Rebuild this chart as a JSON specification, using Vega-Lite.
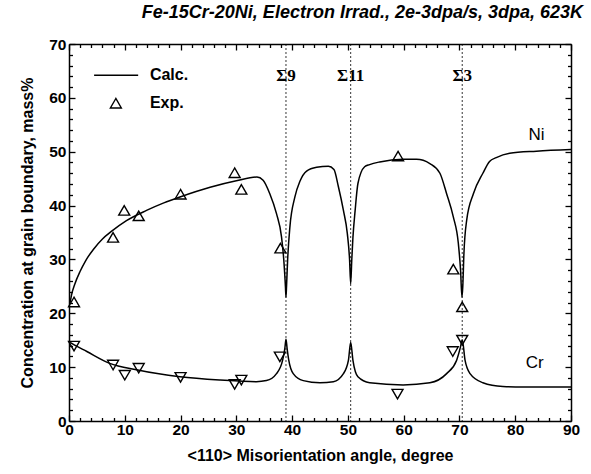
{
  "$schema": "https://vega.github.io/schema/vega-lite/v6.json",
  "width": 502,
  "height": 377,
  "autosize": {"type": "none"},
  "padding": {"left": 69, "top": 44, "right": 20, "bottom": 53},
  "background": "white",
  "config": {
    "view": {"stroke": null},
    "font": "Liberation Sans",
    "axis": {
      "grid": false,
      "domainColor": "black",
      "domainWidth": 1.5,
      "tickColor": "black",
      "tickWidth": 1.3,
      "labelColor": "black",
      "titleColor": "black",
      "labelFont": "Liberation Sans",
      "labelFontWeight": "bold",
      "labelFontSize": 15.5,
      "titleFont": "Liberation Sans",
      "titleFontWeight": "bold",
      "titleFontSize": 16
    }
  },
  "title": {
    "text": "Fe-15Cr-20Ni, Electron Irrad., 2e-3dpa/s, 3dpa, 623K",
    "anchor": "end",
    "frame": "group",
    "dx": 12,
    "offset": 15,
    "font": "Liberation Sans",
    "fontSize": 18,
    "fontStyle": "italic",
    "fontWeight": "bold",
    "color": "black"
  },
  "datasets": {
    "calc": [
      {"angle": 0.2, "conc": 22.0, "element": "Ni"},
      {"angle": 0.5, "conc": 23.6, "element": "Ni"},
      {"angle": 1.0, "conc": 25.3, "element": "Ni"},
      {"angle": 2.0, "conc": 27.8, "element": "Ni"},
      {"angle": 3.0, "conc": 29.8, "element": "Ni"},
      {"angle": 4.4, "conc": 31.9, "element": "Ni"},
      {"angle": 6.0, "conc": 33.8, "element": "Ni"},
      {"angle": 7.6, "conc": 35.2, "element": "Ni"},
      {"angle": 10.3, "conc": 37.2, "element": "Ni"},
      {"angle": 13.9, "conc": 39.1, "element": "Ni"},
      {"angle": 17.0, "conc": 40.5, "element": "Ni"},
      {"angle": 19.9, "conc": 41.6, "element": "Ni"},
      {"angle": 25.3, "conc": 43.4, "element": "Ni"},
      {"angle": 30.0, "conc": 44.6, "element": "Ni"},
      {"angle": 33.7, "conc": 45.3, "element": "Ni"},
      {"angle": 34.8, "conc": 44.7, "element": "Ni"},
      {"angle": 36.0, "conc": 42.2, "element": "Ni"},
      {"angle": 37.2, "conc": 38.5, "element": "Ni"},
      {"angle": 38.1, "conc": 34.2, "element": "Ni"},
      {"angle": 38.5, "conc": 30.0, "element": "Ni"},
      {"angle": 38.8, "conc": 25.0, "element": "Ni"},
      {"angle": 38.9, "conc": 23.0, "element": "Ni"},
      {"angle": 39.0, "conc": 25.0, "element": "Ni"},
      {"angle": 39.2, "conc": 30.0, "element": "Ni"},
      {"angle": 39.6, "conc": 36.0, "element": "Ni"},
      {"angle": 40.5, "conc": 41.6, "element": "Ni"},
      {"angle": 41.4, "conc": 44.5, "element": "Ni"},
      {"angle": 42.6, "conc": 46.4, "element": "Ni"},
      {"angle": 44.4, "conc": 47.1, "element": "Ni"},
      {"angle": 46.5, "conc": 47.3, "element": "Ni"},
      {"angle": 47.5, "conc": 46.7, "element": "Ni"},
      {"angle": 48.3, "conc": 43.5, "element": "Ni"},
      {"angle": 49.2, "conc": 39.1, "element": "Ni"},
      {"angle": 49.9, "conc": 34.8, "element": "Ni"},
      {"angle": 50.3, "conc": 30.0, "element": "Ni"},
      {"angle": 50.5, "conc": 25.5, "element": "Ni"},
      {"angle": 50.7, "conc": 30.0, "element": "Ni"},
      {"angle": 50.9, "conc": 34.0, "element": "Ni"},
      {"angle": 51.3, "conc": 39.1, "element": "Ni"},
      {"angle": 51.8, "conc": 44.1, "element": "Ni"},
      {"angle": 53.0, "conc": 47.2, "element": "Ni"},
      {"angle": 53.9, "conc": 47.6, "element": "Ni"},
      {"angle": 55.7, "conc": 48.1, "element": "Ni"},
      {"angle": 59.9, "conc": 48.6, "element": "Ni"},
      {"angle": 62.3, "conc": 48.6, "element": "Ni"},
      {"angle": 64.7, "conc": 47.8, "element": "Ni"},
      {"angle": 66.5, "conc": 46.0, "element": "Ni"},
      {"angle": 67.7, "conc": 42.2, "element": "Ni"},
      {"angle": 68.9, "conc": 37.9, "element": "Ni"},
      {"angle": 69.8, "conc": 33.0, "element": "Ni"},
      {"angle": 70.2, "conc": 28.0, "element": "Ni"},
      {"angle": 70.45, "conc": 23.0, "element": "Ni"},
      {"angle": 70.6, "conc": 25.0, "element": "Ni"},
      {"angle": 70.8, "conc": 31.0, "element": "Ni"},
      {"angle": 71.3, "conc": 37.3, "element": "Ni"},
      {"angle": 72.5, "conc": 42.2, "element": "Ni"},
      {"angle": 74.2, "conc": 46.0, "element": "Ni"},
      {"angle": 75.4, "conc": 48.2, "element": "Ni"},
      {"angle": 76.6, "conc": 48.9, "element": "Ni"},
      {"angle": 79.0, "conc": 49.7, "element": "Ni"},
      {"angle": 83.8, "conc": 50.1, "element": "Ni"},
      {"angle": 90.0, "conc": 50.4, "element": "Ni"},
      {"angle": 0.2, "conc": 14.6, "element": "Cr"},
      {"angle": 0.5, "conc": 14.4, "element": "Cr"},
      {"angle": 3.2, "conc": 12.9, "element": "Cr"},
      {"angle": 7.3, "conc": 10.7, "element": "Cr"},
      {"angle": 12.1, "conc": 9.5, "element": "Cr"},
      {"angle": 19.9, "conc": 8.2, "element": "Cr"},
      {"angle": 27.1, "conc": 7.6, "element": "Cr"},
      {"angle": 33.6, "conc": 7.3, "element": "Cr"},
      {"angle": 35.4, "conc": 7.5, "element": "Cr"},
      {"angle": 37.2, "conc": 8.8, "element": "Cr"},
      {"angle": 38.3, "conc": 11.3, "element": "Cr"},
      {"angle": 38.7, "conc": 13.5, "element": "Cr"},
      {"angle": 38.9, "conc": 15.2, "element": "Cr"},
      {"angle": 39.1, "conc": 13.5, "element": "Cr"},
      {"angle": 39.4, "conc": 11.3, "element": "Cr"},
      {"angle": 40.2, "conc": 8.8, "element": "Cr"},
      {"angle": 42.0, "conc": 7.5, "element": "Cr"},
      {"angle": 45.0, "conc": 7.1, "element": "Cr"},
      {"angle": 47.4, "conc": 7.3, "element": "Cr"},
      {"angle": 49.2, "conc": 8.8, "element": "Cr"},
      {"angle": 50.1, "conc": 11.3, "element": "Cr"},
      {"angle": 50.5, "conc": 14.6, "element": "Cr"},
      {"angle": 50.9, "conc": 11.3, "element": "Cr"},
      {"angle": 51.8, "conc": 8.2, "element": "Cr"},
      {"angle": 53.9, "conc": 7.1, "element": "Cr"},
      {"angle": 59.9, "conc": 6.7, "element": "Cr"},
      {"angle": 64.7, "conc": 7.1, "element": "Cr"},
      {"angle": 67.7, "conc": 8.8, "element": "Cr"},
      {"angle": 69.5, "conc": 11.3, "element": "Cr"},
      {"angle": 70.2, "conc": 13.8, "element": "Cr"},
      {"angle": 70.5, "conc": 15.1, "element": "Cr"},
      {"angle": 71.0, "conc": 11.3, "element": "Cr"},
      {"angle": 71.9, "conc": 8.8, "element": "Cr"},
      {"angle": 74.2, "conc": 7.1, "element": "Cr"},
      {"angle": 77.8, "conc": 6.4, "element": "Cr"},
      {"angle": 81.4, "conc": 6.3, "element": "Cr"},
      {"angle": 90.0, "conc": 6.3, "element": "Cr"}
    ],
    "expNi": [
      {"angle": 0.9, "conc": 22.1},
      {"angle": 7.9, "conc": 34.1},
      {"angle": 9.9, "conc": 39.1},
      {"angle": 12.5, "conc": 38.1},
      {"angle": 20.0, "conc": 42.1},
      {"angle": 29.7, "conc": 46.1},
      {"angle": 30.9, "conc": 43.0},
      {"angle": 37.9, "conc": 32.1},
      {"angle": 59.0, "conc": 49.2},
      {"angle": 68.9, "conc": 28.2},
      {"angle": 70.5, "conc": 21.2}
    ],
    "expCr": [
      {"angle": 0.9, "conc": 13.9},
      {"angle": 7.9, "conc": 10.4},
      {"angle": 10.0, "conc": 8.5},
      {"angle": 12.5, "conc": 9.8},
      {"angle": 20.0, "conc": 8.1},
      {"angle": 29.7, "conc": 6.8},
      {"angle": 30.9, "conc": 7.6},
      {"angle": 37.8, "conc": 11.9},
      {"angle": 58.9, "conc": 5.0},
      {"angle": 68.8, "conc": 12.9},
      {"angle": 70.5, "conc": 15.0}
    ],
    "sigma": [
      {"angle": 38.9, "conc": 64.0, "label": "Σ9"},
      {"angle": 50.5, "conc": 64.0, "label": "Σ11"},
      {"angle": 70.5, "conc": 64.0, "label": "Σ3"}
    ],
    "elements": [
      {"angle": 83.8, "conc": 53.1, "label": "Ni"},
      {"angle": 83.5, "conc": 10.7, "label": "Cr"}
    ],
    "legendLine": [
      {"angle": 4.5, "conc": 64.2},
      {"angle": 12.4, "conc": 64.2}
    ],
    "legendSymbol": [
      {"angle": 8.4, "conc": 59.0}
    ],
    "legendText": [
      {"angle": 14.5, "conc": 64.2, "label": "Calc."},
      {"angle": 14.5, "conc": 59.0, "label": "Exp."}
    ]
  },
  "layer": [
    {
      "data": {"name": "sigma"},
      "mark": {"type": "rule", "color": "black", "strokeWidth": 0.8, "strokeDash": [2, 2]},
      "encoding": {
        "x": {"field": "angle", "type": "quantitative", "scale": {"domain": [0, 90], "nice": false, "zero": false}, "axis": null}
      }
    },
    {
      "data": {"name": "calc"},
      "mark": {"type": "line", "color": "black", "strokeWidth": 1.5, "interpolate": "monotone"},
      "encoding": {
        "x": {"field": "angle", "type": "quantitative", "scale": {"domain": [0, 90], "nice": false, "zero": false},
          "axis": {"orient": "bottom", "title": "<110> Misorientation angle, degree", "values": [0, 10, 20, 30, 40, 50, 60, 70, 80, 90], "tickSize": -6, "labelPadding": 7, "titlePadding": 10, "labelFlush": false}},
        "y": {"field": "conc", "type": "quantitative", "scale": {"domain": [0, 70], "nice": false, "zero": false},
          "axis": {"orient": "left", "title": "Concentration at grain boundary, mass%", "values": [0, 10, 20, 30, 40, 50, 60, 70], "tickSize": -6, "labelPadding": 9, "titlePadding": 13, "labelFlush": false}},
        "detail": {"field": "element", "type": "nominal"}
      }
    },
    {
      "data": {"name": "expNi"},
      "mark": {"type": "point", "shape": "triangle-up", "size": 120, "filled": false, "color": "black", "strokeWidth": 1.4, "opacity": 1},
      "encoding": {
        "x": {"field": "angle", "type": "quantitative", "axis": {"orient": "top", "title": null, "labels": false, "domain": true, "values": [0, 10, 20, 30, 40, 50, 60, 70, 80, 90], "tickSize": -6}},
        "y": {"field": "conc", "type": "quantitative", "axis": {"orient": "right", "title": null, "labels": false, "domain": true, "values": [0, 10, 20, 30, 40, 50, 60, 70], "tickSize": -6}}
      }
    },
    {
      "data": {"name": "expCr"},
      "mark": {"type": "point", "shape": "triangle-down", "size": 120, "filled": false, "color": "black", "strokeWidth": 1.4, "opacity": 1},
      "encoding": {
        "x": {"field": "angle", "type": "quantitative", "axis": {"orient": "bottom", "title": null, "labels": false, "domain": false, "values": [2, 4, 6, 8, 12, 14, 16, 18, 22, 24, 26, 28, 32, 34, 36, 38, 42, 44, 46, 48, 52, 54, 56, 58, 62, 64, 66, 68, 72, 74, 76, 78, 82, 84, 86, 88], "tickSize": -3.5}},
        "y": {"field": "conc", "type": "quantitative", "axis": {"orient": "left", "title": null, "labels": false, "domain": false, "values": [2, 4, 6, 8, 12, 14, 16, 18, 22, 24, 26, 28, 32, 34, 36, 38, 42, 44, 46, 48, 52, 54, 56, 58, 62, 64, 66, 68], "tickSize": -3.5}}
      }
    },
    {
      "data": {"name": "legendLine"},
      "mark": {"type": "line", "color": "black", "strokeWidth": 1.5},
      "encoding": {
        "x": {"field": "angle", "type": "quantitative", "axis": {"orient": "top", "title": null, "labels": false, "domain": false, "values": [2, 4, 6, 8, 12, 14, 16, 18, 22, 24, 26, 28, 32, 34, 36, 38, 42, 44, 46, 48, 52, 54, 56, 58, 62, 64, 66, 68, 72, 74, 76, 78, 82, 84, 86, 88], "tickSize": -3.5}},
        "y": {"field": "conc", "type": "quantitative", "axis": {"orient": "right", "title": null, "labels": false, "domain": false, "values": [2, 4, 6, 8, 12, 14, 16, 18, 22, 24, 26, 28, 32, 34, 36, 38, 42, 44, 46, 48, 52, 54, 56, 58, 62, 64, 66, 68], "tickSize": -3.5}}
      }
    },
    {
      "data": {"name": "legendSymbol"},
      "mark": {"type": "point", "shape": "triangle-up", "size": 120, "filled": false, "color": "black", "strokeWidth": 1.4, "opacity": 1},
      "encoding": {
        "x": {"field": "angle", "type": "quantitative", "axis": null},
        "y": {"field": "conc", "type": "quantitative", "axis": null}
      }
    },
    {
      "data": {"name": "legendText"},
      "mark": {"type": "text", "align": "left", "baseline": "middle", "font": "Liberation Sans", "fontWeight": "bold", "fontSize": 16, "color": "black"},
      "encoding": {
        "x": {"field": "angle", "type": "quantitative", "axis": null},
        "y": {"field": "conc", "type": "quantitative", "axis": null},
        "text": {"field": "label", "type": "nominal"}
      }
    },
    {
      "data": {"name": "sigma"},
      "mark": {"type": "text", "align": "center", "baseline": "middle", "font": "Liberation Serif", "fontWeight": "bold", "fontSize": 17, "color": "black"},
      "encoding": {
        "x": {"field": "angle", "type": "quantitative", "axis": null},
        "y": {"field": "conc", "type": "quantitative", "axis": null},
        "text": {"field": "label", "type": "nominal"}
      }
    },
    {
      "data": {"name": "elements"},
      "mark": {"type": "text", "align": "center", "baseline": "middle", "font": "Liberation Sans", "fontSize": 17, "color": "black"},
      "encoding": {
        "x": {"field": "angle", "type": "quantitative", "axis": null},
        "y": {"field": "conc", "type": "quantitative", "axis": null},
        "text": {"field": "label", "type": "nominal"}
      }
    }
  ],
  "resolve": {"axis": {"x": "independent", "y": "independent"}}
}
